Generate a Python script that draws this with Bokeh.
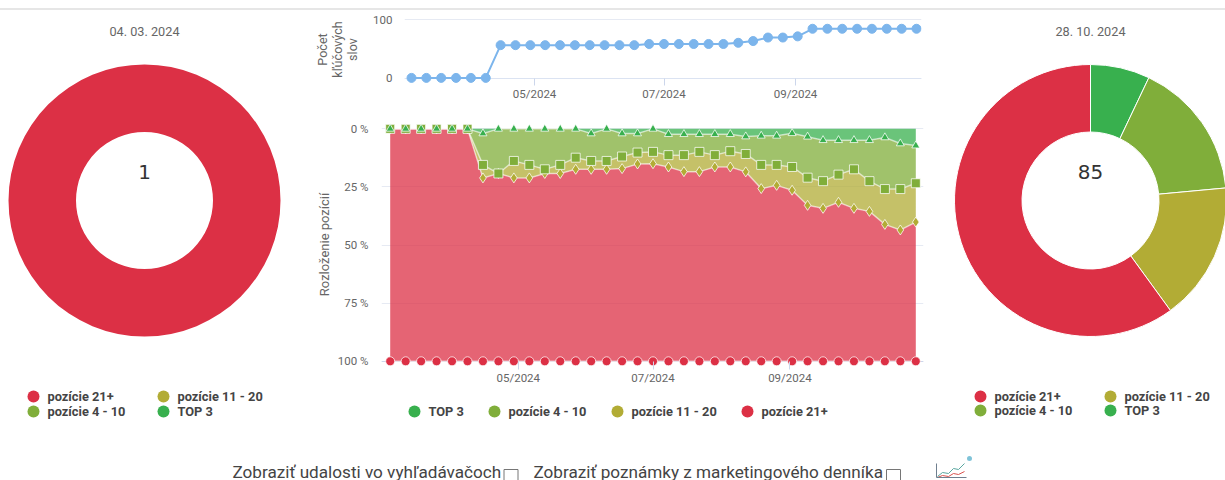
import math
from datetime import datetime, timedelta
from bokeh.embed import file_html
from bokeh.layouts import column, row
from bokeh.models import Range1d, FixedTicker, DatetimeTickFormatter, Div
from bokeh.plotting import figure
from bokeh.resources import INLINE
from bokeh.core.properties import value

# ---- data ----
start_date = datetime(2024, 3, 4)
dates = [start_date + timedelta(days=7 * i) for i in range(35)]
month_ticks = [datetime(2024, 5, 1), datetime(2024, 7, 1), datetime(2024, 9, 1)]

keyword_counts = [1, 1, 1, 1, 1, 1, 57, 57, 57, 57, 57, 57, 57, 57, 57, 57, 59, 59, 59, 59, 59, 59,
                  61, 64, 70, 70, 72, 85, 85, 85, 85, 85, 85, 85, 85]

# cumulative lower edge of each stacked series, % of keywords
top3_edge = [0, 0, 0, 0, 0, 0, 2, 0, 0, 0, 0, 0, 0, 2, 0, 2, 2, 0, 2.3, 2.3, 2.3, 2.3, 2.3, 3.3, 3, 3,
             1.9, 3.4, 4.9, 4.9, 4.9, 4.9, 3.7, 6.3, 7.2]
pos4_10_edge = [0, 0, 0, 0, 0, 0, 15.5, 19.2, 13.8, 15.5, 17.4, 15.5, 12.4, 13.8, 13.8, 11.9, 10.2, 9.9,
                11.3, 11.3, 9.9, 11.3, 9.6, 10.8, 15.5, 15.5, 16.4, 21, 22.5, 19.7, 17.4, 22.5, 25.9, 25.9, 23.4]
pos11_20_edge = [0, 0, 0, 0, 0, 0, 21.1, 19.2, 21.1, 21.1, 19.2, 19.2, 17.4, 17.4, 17.4, 17.1, 15.1, 15,
                 16.4, 18.4, 18.4, 16.4, 16.4, 18.5, 25.7, 24.3, 26.4, 32.9, 34.2, 31.6, 34.2, 35.5, 41.1, 43.5, 40.1]
pos21_edge = [100] * 35

series_names = ["TOP 3", "pozície 4 - 10", "pozície 11 - 20", "pozície 21+"]
series_colors = ["#38B04E", "#80AE3A", "#B2AC35", "#DC3045"]

donut_left_date = "04. 03. 2024"
donut_left_values = [0, 0, 0, 1]
donut_right_date = "28. 10. 2024"
donut_right_values = [6, 14, 14, 51]

y_pct_ticks = [0, 25, 50, 75, 100]
y_pct_labels = {0: "0 %", 25: "25 %", 50: "50 %", 75: "75 %", 100: "100 %"}
kw_ticks = [0, 100]

switch_labels = ["Zobraziť udalosti vo vyhľadávačoch", "Zobraziť poznámky z marketingového denníka"]

FONT = "Roboto"
GREY = "#666666"
TXT = "#444444"


def strip_axes(p):
    p.axis.visible = False
    p.grid.visible = False
    p.outline_line_color = None
    p.min_border = 0
    p.frame_align = False


def base(width, height, x_range, y_range):
    p = figure(width=width, height=height, x_range=x_range, y_range=y_range,
               output_backend="svg", toolbar_location=None)
    strip_axes(p)
    return p


def legend_rows(p, entries):
    for cx, cy, name in entries:
        color = series_colors[series_names.index(name)]
        p.scatter([cx], [cy], size=12, marker="circle", fill_color=color, line_color=color, line_width=0)
        p.text([cx + 14], [cy], text=[name], text_font=value(FONT), text_font_size="12.8px",
               text_font_style="bold", text_color=TXT, text_align="left", text_baseline="middle")


def donut(width, left, right, vals, date_text):
    # one data unit is one pixel; the ring centre is the origin
    p = base(width, 422, Range1d(left, right), Range1d(-232, 190))
    total = sum(vals)
    cum = 0
    for v, c in zip(vals, series_colors):
        if v == 0:
            continue
        if v == total:
            p.annulus([0], [0], inner_radius=68.5, outer_radius=136, fill_color=c, line_color=None)
        else:
            a0 = math.pi / 2 - cum / total * 2 * math.pi
            a1 = math.pi / 2 - (cum + v) / total * 2 * math.pi
            p.annular_wedge([0], [0], inner_radius=68.5, outer_radius=136, start_angle=a0, end_angle=a1,
                            direction="clock", fill_color=c, line_color="white", line_width=1)
        cum += v
    p.text([0], [169], text=[date_text], text_font=value(FONT), text_font_size="12.7px", text_color=GREY,
           text_align="center", text_baseline="middle")
    p.text([0], [29], text=[str(total)], text_font=value("DejaVu Sans"), text_font_size="20px",
           text_color="#333333", text_align="center", text_baseline="middle")
    return p


# left donut (page x 0..300, centre 144)
left_fig = donut(300, -144, 156, donut_left_values, donut_left_date)
legend_rows(left_fig, [(-111, -196, "pozície 21+"), (19, -196, "pozície 11 - 20"),
                       (-111, -211, "pozície 4 - 10"), (19, -211, "TOP 3")])

# right donut (page x 935..1225, centre 1090)
right_fig = donut(290, -155, 135, donut_right_values, donut_right_date)
legend_rows(right_fig, [(-110, -196, "pozície 21+"), (20, -196, "pozície 11 - 20"),
                        (-110, -210, "pozície 4 - 10"), (20, -210, "TOP 3")])


def date_range(px_left, px_first, px_last, px_right):
    d0, d1 = dates[0], dates[-1]
    per_px = (d1 - d0) / (px_last - px_first)
    return Range1d(d0 - per_px * (px_first - px_left), d1 + per_px * (px_right - px_last))


def style_x(p, tick_in):
    p.frame_align = False
    ax = p.xaxis[0]
    ax.ticker = FixedTicker(ticks=[d.timestamp() * 1000 for d in month_ticks])
    ax.formatter = DatetimeTickFormatter(months="%m/%Y", days="%m/%Y", hours="%m/%Y", minutes="%m/%Y",
                                         seconds="%m/%Y", milliseconds="%m/%Y", years="%m/%Y")
    ax.axis_line_color = None
    ax.major_tick_in = tick_in
    ax.major_tick_out = 1
    ax.major_tick_line_color = "#ccd6eb"
    ax.minor_tick_line_color = None
    ax.major_label_text_font = FONT
    ax.major_label_text_font_size = "11.5px"
    ax.major_label_text_color = GREY
    ax.major_label_standoff = 1
    p.xgrid.visible = False


def style_y(p, ticks, standoff, label, label_standoff, label_size):
    ay = p.yaxis[0]
    ay.ticker = FixedTicker(ticks=ticks)
    ay.axis_line_color = None
    ay.major_tick_line_color = None
    ay.minor_tick_line_color = None
    ay.major_label_text_font = FONT
    ay.major_label_text_font_size = "11.5px"
    ay.major_label_text_color = GREY
    ay.major_label_standoff = standoff
    ay.axis_label = label
    ay.axis_label_text_font = FONT
    ay.axis_label_text_font_style = "normal"
    ay.axis_label_text_font_size = label_size
    ay.axis_label_text_color = GREY
    ay.axis_label_text_line_height = 1.0
    ay.axis_label_standoff = label_standoff
    p.ygrid.grid_line_color = "#e6eaf3"


# keyword count chart: frame page x 404..921, y 14..84
top_fig = figure(width=635, height=95, x_axis_type="datetime",
                 x_range=date_range(404, 411, 916, 921), y_range=Range1d(-10.3, 109.4),
                 output_backend="svg", toolbar_location=None,
                 min_border_left=104, min_border_right=14, min_border_top=4, min_border_bottom=21)
top_fig.outline_line_color = None
style_x(top_fig, 6)
style_y(top_fig, kw_ticks, 6, "Počet\nkľúčových\nslov", 10, "12.6px")
top_fig.hspan(y=[0], line_color="#dbe3f2", line_width=1)
top_fig.line(dates, keyword_counts, line_color="#7CB5EC", line_width=2)
top_fig.scatter(dates, keyword_counts, size=9, marker="circle", fill_color="#7CB5EC", line_color="#7CB5EC")

# stacked distribution chart: frame page x 381..923, y 120..368
mid_fig = figure(width=635, height=283, x_axis_type="datetime",
                 x_range=date_range(381, 389.7, 915.3, 923), y_range=Range1d(103.1, -3.6),
                 output_backend="svg", toolbar_location=None,
                 min_border_left=81, min_border_right=12, min_border_top=15, min_border_bottom=20)
mid_fig.outline_line_color = None
style_x(mid_fig, 7)
style_y(mid_fig, y_pct_ticks, 7, "Rozloženie pozícií", 3, "13px")
mid_fig.yaxis[0].major_label_overrides = y_pct_labels
mid_fig.hspan(y=[100], line_color="#ccd6eb", line_width=1)

zero = [0] * 35
stack = [(zero, top3_edge), (top3_edge, pos4_10_edge), (pos4_10_edge, pos11_20_edge), (pos11_20_edge, pos21_edge)]
markers = ["triangle", "square", "diamond", "circle"]
sizes = [8, 9, 10, 9]
for (lo, hi), c in zip(reversed(stack), reversed(series_colors)):
    mid_fig.varea(dates, lo, hi, fill_color=c, fill_alpha=0.75)
for (lo, hi) in reversed(stack):
    mid_fig.line(dates, hi, line_color="white", line_alpha=0.55, line_width=1.5)
for (lo, hi), c, m, s in zip(reversed(stack), reversed(series_colors), reversed(markers), reversed(sizes)):
    mid_fig.scatter(dates, hi, size=s, marker=m, fill_color=c, line_color="white", line_width=1, line_alpha=0.75)

# legend strip under the stacked chart, page coordinates
leg_fig = base(635, 44, Range1d(300, 935), Range1d(432, 388))
legend_rows(leg_fig, [(414, 411, "TOP 3"), (494, 411, "pozície 4 - 10"),
                      (617, 411, "pozície 11 - 20"), (747, 411, "pozície 21+")])

# page-wide rule on top
rule = Div(text="", width=1225, height=2, margin=(8, 0, 0, 0), styles={"background-color": "#e6e6e6"})

# switches at the bottom, page coordinates
bottom = base(1225, 48, Range1d(0, 1225), Range1d(480, 432))
for x, s in zip([232, 533], switch_labels):
    bottom.text([x], [471], text=[s], text_font=value(FONT), text_font_size="17.15px", text_color="#444444",
                text_align="left", text_baseline="middle")
bottom.rect([510.5, 893], [476, 476], width=14, height=14, fill_color="white", line_color="#767676", line_width=1)
# small chart icon
bottom.line([937, 942, 948, 953, 958, 964], [476, 472, 473, 468, 469, 463], line_color="#5aa7a0", line_width=1)
bottom.line([937, 942, 948, 953, 958, 964], [477, 475, 476, 473, 474, 471], line_color="#d9534f", line_width=1)
bottom.line([936, 936, 966], [463, 477, 477], line_color="#6f7f8f", line_width=1)
bottom.scatter([969], [458], size=5, marker="circle", fill_color="#7fc3d8", line_color=None)

layout = column(rule, row(left_fig, column(top_fig, mid_fig, leg_fig, spacing=0), right_fig, spacing=0), bottom,
                spacing=0)
open("out.html", "w").write(file_html(layout, INLINE))
